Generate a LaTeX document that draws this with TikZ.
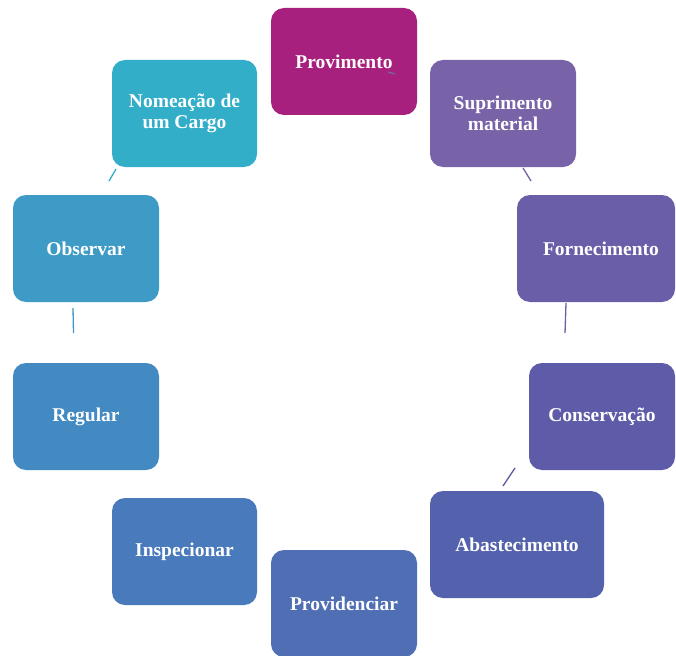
\documentclass[tikz,border=0pt]{standalone}
\usepackage{fontspec}
\setmainfont{Liberation Serif}
\definecolor{cProv}{RGB}{168,32,126}
\definecolor{cSup}{RGB}{120,98,168}
\definecolor{cForn}{RGB}{106,94,168}
\definecolor{cCons}{RGB}{94,92,168}
\definecolor{cAbas}{RGB}{84,97,172}
\definecolor{cPrvd}{RGB}{79,110,180}
\definecolor{cInsp}{RGB}{72,122,188}
\definecolor{cReg}{RGB}{66,138,193}
\definecolor{cObs}{RGB}{61,155,198}
\definecolor{cNom}{RGB}{50,174,200}
\tikzset{
  box/.style={rectangle, rounded corners=13pt, minimum width=146pt, minimum height=107pt,
    inner sep=0pt, text=white, align=center, font=\fontsize{19.5}{21}\selectfont\bfseries},
  link/.style={line width=1.3pt}
}
\begin{document}
\begin{tikzpicture}[x=1pt,y=-1pt]
\clip (0,0) rectangle (676,655);
\fill[white] (0,0) rectangle (676,655);
\node[box, fill=cProv] (prov) at (344,61.5) {\raisebox{-1pt}{Provimento}};
\node[box, fill=cSup] (sup) at (503,113.5) {Suprimento\\material};
\node[box, fill=cForn, minimum width=158pt] (forn) at (596,248.5) {\hspace*{10pt}Fornecimento};
\node[box, fill=cCons] (cons) at (602,416.5) {Conservação};
\node[box, fill=cAbas, minimum width=174pt] (abas) at (517,544.5) {Abastecimento};
\node[box, fill=cPrvd] (prvd) at (344,603.5) {Providenciar};
\node[box, fill=cInsp, minimum width=145pt] (insp) at (184.5,551.5) {Inspecionar};
\node[box, fill=cReg] (reg) at (86,416.5) {Regular};
\node[box, fill=cObs] (obs) at (86,248.5) {Observar};
\node[box, fill=cNom, minimum width=145pt] (nom) at (184.5,113.5) {Nomeação de\\um Cargo};
% connector fragments
\coordinate (p1) at (388,72);
\coordinate (p2) at (395,74);
\draw[link, color=cSup!80!gray] (p1) -- (p2);
\coordinate (s1) at (523,168);
\coordinate (s2) at (531,181);
\draw[link, color=cSup] (s1) -- (s2);
\coordinate (f1) at (566,303);
\coordinate (f2) at (565,333);
\draw[link, color=cForn] (f1) -- (f2);
\coordinate (c1) at (515,468);
\coordinate (c2) at (503,486);
\draw[link, color=cCons] (c1) -- (c2);
\coordinate (n1) at (116,169);
\coordinate (n2) at (109,181);
\draw[link, color=cNom] (n1) -- (n2);
\coordinate (o1) at (73,308);
\coordinate (o2) at (73.5,333);
\draw[link, color=cObs] (o1) -- (o2);
\end{tikzpicture}
\end{document}
